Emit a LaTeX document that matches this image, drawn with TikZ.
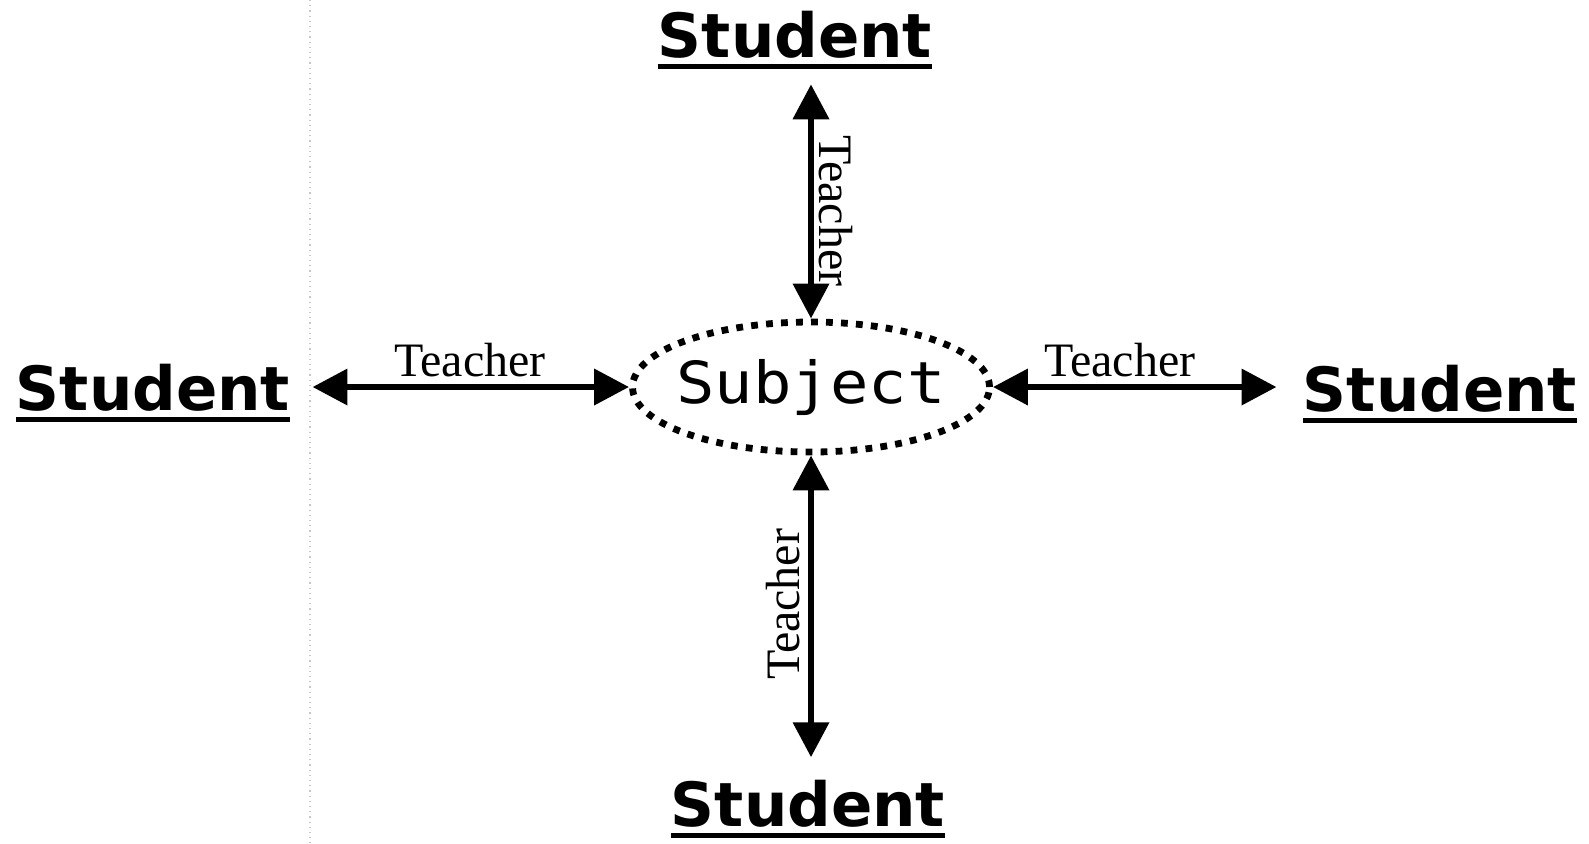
\documentclass[tikz,border=0pt]{standalone}
\usepackage{fontspec}
\usepackage{graphicx}
\setmainfont{Liberation Serif}
\setsansfont{DejaVu Sans}
\setmonofont{DejaVu Sans Mono}
\usetikzlibrary{arrows.meta,shapes.geometric}
\newcommand\ulword[1]{\vtop{\hbox{#1}\kern3pt\hrule height 2.5pt}}

\begin{document}
\begin{tikzpicture}[x=0.5pt,y=-0.5pt,>={Triangle[length=17.5pt,width=17.5pt]},
 student/.style={inner sep=0pt,anchor=base,font=\sffamily\bfseries\fontsize{30.5}{31}\selectfont},
 topic/.style={ellipse,draw,line width=3.4pt,dash pattern=on 3.4pt off 4.1pt,
  minimum width=178.5pt,minimum height=65pt,inner sep=0pt,font=\ttfamily\fontsize{29}{30}\selectfont},
 link/.style={<->,line width=3.4pt},
 role/.style={font=\fontsize{24}{26}\selectfont,inner sep=3.5pt}]
\useasboundingbox (0,0) rectangle (1589,843);
\draw[gray!45,line width=0.6pt,dotted] (310,0) -- (310,843);
\node[topic](subj) at (811,387){\makebox[110pt]{\scalebox{1.1}[1]{Subject}}};
\node[student](st) at (795,57){\ulword{Student}};
\node[student](sl) at (153,410){\ulword{Student}};
\node[student](sr) at (1440,411){\ulword{Student}};
\node[student](sb) at (808,826){\ulword{Student}};
\draw[link,shorten <=11pt](sl.east |- subj) -- node[role,pos=0.53,above]{Teacher} (subj);
\draw[link,shorten >=13pt](subj) -- node[role,pos=0.41,above]{Teacher} (sr.west |- subj);
\draw[link,shorten <=7.5pt](st.south -| subj) -- node[role,pos=0.567,rotate=-90,anchor=south,inner sep=2.5pt]{Teacher} (subj);
\draw[link,shorten >=11pt](subj) -- node[role,pos=0.46,rotate=90,anchor=south,inner sep=4pt]{Teacher} (sb.north -| subj);
\end{tikzpicture}
\end{document}
